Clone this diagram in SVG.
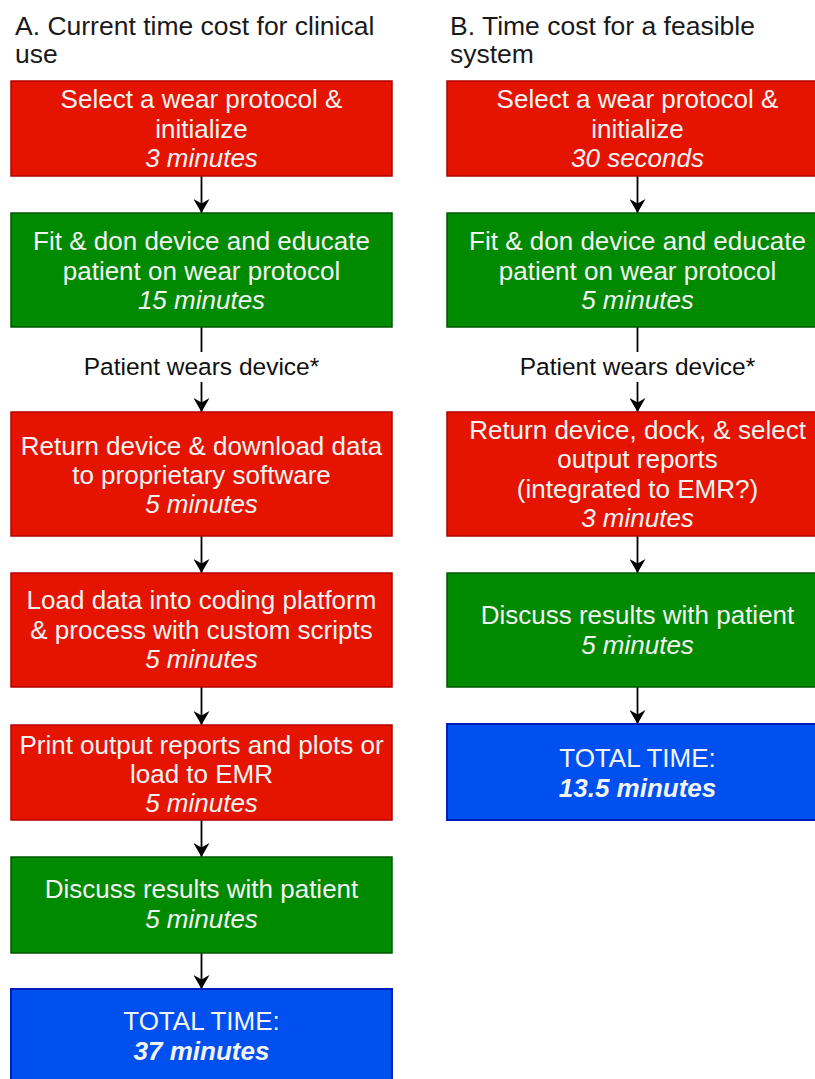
<svg xmlns="http://www.w3.org/2000/svg" width="815" height="1079" viewBox="0 0 815 1079">
<style>
  text { font-family: "Liberation Sans", Arial, sans-serif; }
  .title { font-size: 26.5px; fill: #1a1a1a; }
  .bt { font-size: 26px; fill: #f4f4f4; text-anchor: middle; }
  .it { font-style: italic; }
  .bi { font-style: italic; font-weight: bold; }
  .lbl { font-size: 24.5px; fill: #111; text-anchor: middle; }
  .red { fill: #e51400; stroke: #b20000; stroke-width: 1.5; }
  .green { fill: #008a00; stroke: #005700; stroke-width: 1.5; }
  .blue { fill: #0050ef; stroke: #001dbc; stroke-width: 2; }
  .conn line { stroke: #000; stroke-width: 1.8; }
</style>
<defs>
  <marker id="arr" viewBox="0 0 14 16" refX="14" refY="8" markerWidth="14" markerHeight="16" markerUnits="userSpaceOnUse" orient="auto">
    <path d="M0,0 L14,8 L0,16 L4.5,8 Z" fill="#000"/>
  </marker>
</defs>
<rect width="815" height="1079" fill="#fff"/>

<g id="titleA">
  <text class="title" x="15" y="35">A. Current time cost for clinical</text>
  <text class="title" x="15" y="63">use</text>
</g>
<g id="titleB">
  <text class="title" x="450" y="35">B. Time cost for a feasible</text>
  <text class="title" x="450" y="63">system</text>
</g>

<g class="conn" id="connectors">
  <line x1="201.5" y1="176" x2="201.5" y2="213" marker-end="url(#arr)"/>
  <line x1="201.5" y1="327" x2="201.5" y2="352"/>
  <line x1="201.5" y1="382" x2="201.5" y2="412" marker-end="url(#arr)"/>
  <line x1="201.5" y1="536" x2="201.5" y2="573" marker-end="url(#arr)"/>
  <line x1="201.5" y1="687" x2="201.5" y2="725" marker-end="url(#arr)"/>
  <line x1="201.5" y1="820" x2="201.5" y2="857" marker-end="url(#arr)"/>
  <line x1="201.5" y1="953" x2="201.5" y2="989" marker-end="url(#arr)"/>
  <line x1="637.5" y1="176" x2="637.5" y2="213" marker-end="url(#arr)"/>
  <line x1="637.5" y1="327" x2="637.5" y2="352"/>
  <line x1="637.5" y1="382" x2="637.5" y2="412" marker-end="url(#arr)"/>
  <line x1="637.5" y1="536" x2="637.5" y2="573" marker-end="url(#arr)"/>
  <line x1="637.5" y1="687" x2="637.5" y2="724" marker-end="url(#arr)"/>
</g>

<g id="labelA">
  <text class="lbl" x="201.5" y="375">Patient wears device*</text>
</g>
<g id="labelB">
  <text class="lbl" x="637.5" y="375">Patient wears device*</text>
</g>

<g id="a1">
  <rect class="red" x="11" y="81" width="381" height="95"/>
  <text class="bt" x="201.5" y="108">Select a wear protocol &amp;</text>
  <text class="bt" x="201.5" y="138">initialize</text>
  <text class="bt it" x="201.5" y="167">3 minutes</text>
</g>
<g id="a2">
  <rect class="green" x="11" y="213" width="381" height="114"/>
  <text class="bt" x="201.5" y="250">Fit &amp; don device and educate</text>
  <text class="bt" x="201.5" y="280">patient on wear protocol</text>
  <text class="bt it" x="201.5" y="309">15 minutes</text>
</g>
<g id="a3">
  <rect class="red" x="11" y="412" width="381" height="124"/>
  <text class="bt" x="201.5" y="455">Return device &amp; download data</text>
  <text class="bt" x="201.5" y="484">to proprietary software</text>
  <text class="bt it" x="201.5" y="513">5 minutes</text>
</g>
<g id="a4">
  <rect class="red" x="11" y="573" width="381" height="114"/>
  <text class="bt" x="201.5" y="609">Load data into coding platform</text>
  <text class="bt" x="201.5" y="639">&amp; process with custom scripts</text>
  <text class="bt it" x="201.5" y="668">5 minutes</text>
</g>
<g id="a5">
  <rect class="red" x="11" y="725" width="381" height="95"/>
  <text class="bt" x="201.5" y="754">Print output reports and plots or</text>
  <text class="bt" x="201.5" y="783">load to EMR</text>
  <text class="bt it" x="201.5" y="812">5 minutes</text>
</g>
<g id="a6">
  <rect class="green" x="11" y="857" width="381" height="96"/>
  <text class="bt" x="201.5" y="898">Discuss results with patient</text>
  <text class="bt it" x="201.5" y="928">5 minutes</text>
</g>
<g id="a7">
  <rect class="blue" x="11" y="989" width="381" height="100"/>
  <text class="bt" x="201.5" y="1030">TOTAL TIME:</text>
  <text class="bt bi" x="201.5" y="1060">37 minutes</text>
</g>

<g id="b1">
  <rect class="red" x="447" y="81" width="381" height="95"/>
  <text class="bt" x="637.5" y="108">Select a wear protocol &amp;</text>
  <text class="bt" x="637.5" y="138">initialize</text>
  <text class="bt it" x="637.5" y="167">30 seconds</text>
</g>
<g id="b2">
  <rect class="green" x="447" y="213" width="381" height="114"/>
  <text class="bt" x="637.5" y="250">Fit &amp; don device and educate</text>
  <text class="bt" x="637.5" y="280">patient on wear protocol</text>
  <text class="bt it" x="637.5" y="309">5 minutes</text>
</g>
<g id="b3">
  <rect class="red" x="447" y="412" width="381" height="124"/>
  <text class="bt" x="637.5" y="439">Return device, dock, &amp; select</text>
  <text class="bt" x="637.5" y="468">output reports</text>
  <text class="bt" x="637.5" y="498">(integrated to EMR?)</text>
  <text class="bt it" x="637.5" y="527">3 minutes</text>
</g>
<g id="b4">
  <rect class="green" x="447" y="573" width="381" height="114"/>
  <text class="bt" x="637.5" y="624">Discuss results with patient</text>
  <text class="bt it" x="637.5" y="654">5 minutes</text>
</g>
<g id="b5">
  <rect class="blue" x="447" y="724" width="381" height="96"/>
  <text class="bt" x="637.5" y="767">TOTAL TIME:</text>
  <text class="bt bi" x="637.5" y="797">13.5 minutes</text>
</g>
</svg>
